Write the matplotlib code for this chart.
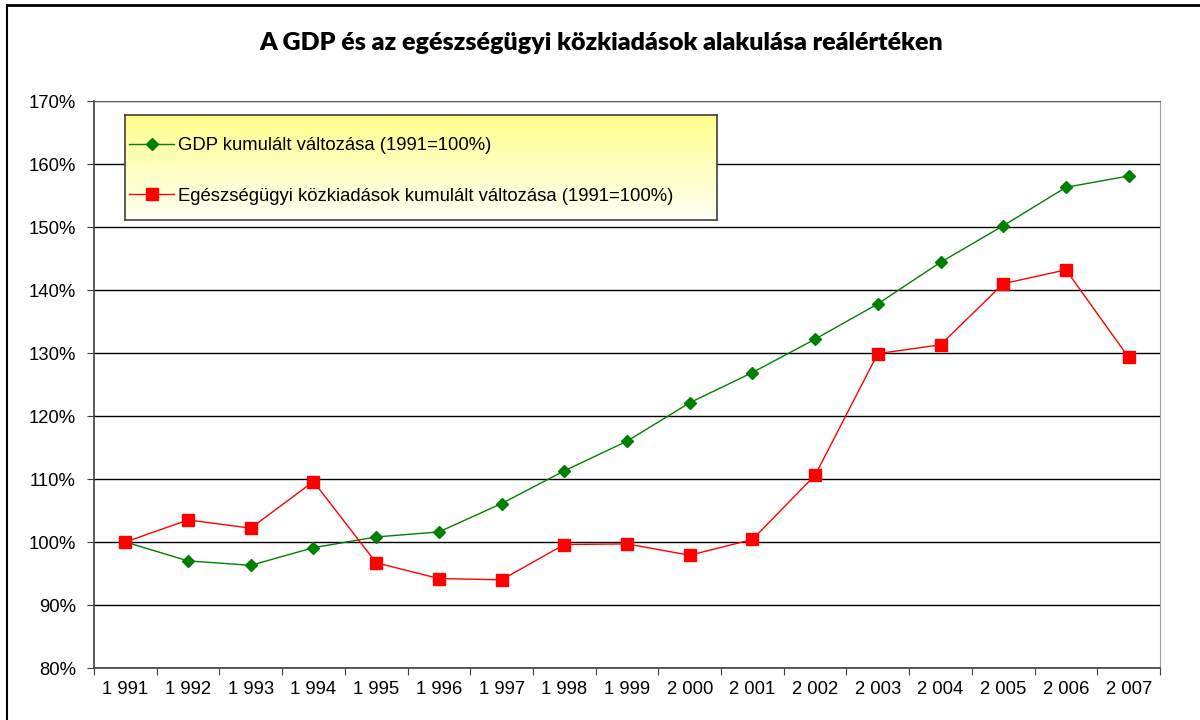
import matplotlib
matplotlib.use("Agg")
import matplotlib.pyplot as plt
from matplotlib.lines import Line2D
import numpy as np

years = ["1 991", "1 992", "1 993", "1 994", "1 995", "1 996", "1 997", "1 998", "1 999",
         "2 000", "2 001", "2 002", "2 003", "2 004", "2 005", "2 006", "2 007"]
gdp = [100.0, 97.0, 96.3, 99.1, 100.8, 101.6, 106.1, 111.3, 116.0,
       122.1, 126.9, 132.2, 137.8, 144.4, 150.2, 156.3, 158.1]
health = [100.0, 103.5, 102.2, 109.6, 96.7, 94.2, 94.0, 99.6, 99.7,
          97.9, 100.4, 110.6, 129.9, 131.3, 141.0, 143.2, 129.3]
gdp_label = "GDP kumulált változása (1991=100%)"
health_label = "Egészségügyi közkiadások kumulált változása (1991=100%)"
title = "A GDP és az egészségügyi közkiadások alakulása reálértéken"
yticks = [80, 90, 100, 110, 120, 130, 140, 150, 160, 170]

W, H = 1200, 720
fig = plt.figure(figsize=(W / 100, H / 100), dpi=100)
fig.patch.set_facecolor("white")

ax = fig.add_axes([94 / W, 1 - 668 / H, (1160 - 94) / W, (668 - 101) / H])
x = np.arange(len(years))

ax.plot(x, gdp, color="#008000", lw=1.0, marker="D", ms=6.0,
        markeredgecolor="#008000", markerfacecolor="#008000", label=gdp_label, zorder=3)
ax.plot(x, health, color="#FF0000", lw=1.0, marker="s", ms=9.0,
        markeredgecolor="#FF0000", markerfacecolor="#FF0000", label=health_label, zorder=4)

ax.set_xlim(-0.5, len(years) - 0.5)
ax.set_ylim(80, 170)
ax.set_yticks(yticks)
ax.set_yticklabels([f"{v}%" for v in yticks], fontsize=13.3, family="Liberation Sans")
ax.yaxis.grid(True, color="#000000", lw=1.0)
ax.set_axisbelow(True)

ax.set_xticks(np.arange(-0.5, len(years), 1.0))
ax.set_xticklabels([])
ax.set_xticks(x, minor=True)
ax.set_xticklabels(years, minor=True, fontsize=13.3, family="Liberation Sans")
ax.tick_params(axis="x", which="minor", length=0, pad=9)
ax.tick_params(axis="x", which="major", length=5, direction="out", color="#404040")
ax.tick_params(axis="y", length=5, direction="out", color="#404040", pad=8)

for side in ["left", "bottom"]:
    ax.spines[side].set_color("#404040")
    ax.spines[side].set_linewidth(1.2)
ax.spines["top"].set_color("#606060")
ax.spines["right"].set_color("#A0A0A0")

# legend on gradient panel
lax = fig.add_axes([125 / W, 1 - 220 / H, (717 - 125) / W, (220 - 115) / H], zorder=5)
grad = np.linspace(0, 1, 256).reshape(-1, 1)
top = np.array([1.0, 1.0, 0.55])
bot = np.array([1.0, 1.0, 0.96])
img = top[None, None, :] * (1 - grad[:, :, None]) + bot[None, None, :] * grad[:, :, None]
lax.imshow(img, aspect="auto", extent=[0, 1, 0, 1])
lax.set_xlim(0, 1)
lax.set_ylim(0, 1)
lax.set_xticks([])
lax.set_yticks([])
for s in lax.spines.values():
    s.set_color("#404040")
    s.set_linewidth(1.2)
handles, labels = ax.get_legend_handles_labels()
leg = lax.legend(handles, labels, loc="center left", frameon=False,
                 prop={"family": "Liberation Sans", "size": 13.3},
                 labelspacing=1.8, handlelength=2.4, handletextpad=0.25,
                 borderaxespad=0.0, bbox_to_anchor=(-0.005, 0.466))

fig.text(601 / W, 1 - 43 / H, title, ha="center", va="center",
         fontsize=18, fontweight="heavy", family="Lato")

# outer chart border
fig.add_artist(Line2D([7 / W, 7 / W], [0, 1 - 4.5 / H], transform=fig.transFigure,
                      color="black", lw=1.5))
fig.add_artist(Line2D([7 / W, 1], [1 - 4.5 / H, 1 - 4.5 / H], transform=fig.transFigure,
                      color="black", lw=2.0))

fig.savefig("out.png", dpi=100)
